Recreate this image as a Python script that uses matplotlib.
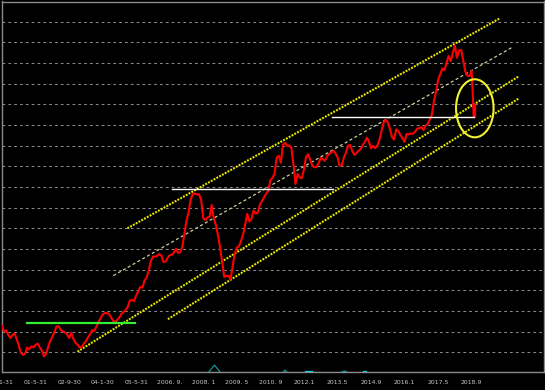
import matplotlib
matplotlib.use('Agg')
import matplotlib.pyplot as plt
from matplotlib.patches import Ellipse
import numpy as np

plt.rcParams['lines.scale_dashes'] = False
plt.rcParams['font.family'] = ['DejaVu Sans']

# ---------------- data (month index 0 = 2000-01, monthly closes, price level units) -------------
values = [
    2.27, 2.00, 2.06, 1.84, 1.69, 1.84, 1.91, 1.65, 1.33, 0.97,
    0.87, 0.94, 1.23, 1.14, 1.28, 1.24, 1.35, 1.42, 1.24, 1.09,
    0.80, 0.92, 1.26, 1.55, 1.74, 1.98, 2.25, 2.26, 2.08, 2.01,
    1.96, 1.88, 1.69, 1.94, 1.66, 1.47, 1.36, 1.24, 1.24, 1.42,
    1.53, 1.72, 1.87, 2.07, 2.03, 2.23, 2.45, 2.64, 2.83, 2.90,
    2.90, 2.86, 2.69, 2.53, 2.44, 2.57, 2.69, 2.86, 2.95, 3.05,
    3.20, 3.51, 3.53, 3.48, 3.75, 3.95, 4.16, 4.14, 4.47, 4.62,
    4.96, 5.42, 5.63, 5.64, 5.66, 5.76, 5.69, 5.37, 5.39, 5.57,
    5.70, 5.72, 5.83, 6.01, 5.81, 5.84, 6.10, 6.73, 7.38, 7.77,
    8.40, 8.66, 8.69, 8.63, 8.65, 8.37, 7.48, 7.40, 7.53, 7.56,
    8.13, 7.49, 7.16, 6.68, 6.07, 5.39, 4.64, 4.70, 4.70, 4.53,
    5.16, 5.78, 6.07, 6.13, 6.39, 6.70, 7.19, 7.70, 7.33, 7.45,
    7.86, 7.71, 7.77, 8.14, 8.32, 8.51, 8.68, 8.81, 9.34, 9.44,
    9.66, 10.43, 10.51, 10.17, 11.05, 11.14, 10.99, 11.01, 10.90, 10.09,
    9.15, 9.63, 9.46, 9.43, 9.85, 10.45, 10.59, 10.32, 10.04, 9.95,
    9.97, 10.15, 10.41, 10.35, 10.27, 10.47, 10.60, 10.67, 10.76, 10.63,
    10.45, 10.03, 10.04, 10.41, 10.65, 10.99, 11.04, 10.76, 10.56, 10.63,
    10.76, 10.82, 11.03, 11.17, 11.39, 11.20, 10.87, 10.99, 10.88, 11.01,
    11.28, 11.69, 12.12, 12.26, 12.14, 11.82, 11.42, 11.30, 11.79, 11.71,
    11.51, 11.37, 11.18, 11.57, 11.54, 11.59, 11.58, 11.67, 11.83, 11.85,
    11.90, 11.76, 11.97, 12.04, 12.27, 12.49, 13.15, 13.59, 14.18, 14.45,
    14.73, 14.65, 15.01, 15.34, 15.08, 15.49, 15.85, 15.26, 15.60, 15.64,
    15.10, 14.58, 14.38, 14.38, 14.63, 12.41,
]
last_bar_high = 13.07

tick_months = [0, 16, 32, 48, 64, 80, 96, 112, 128, 144, 160, 176, 192, 208, 224]
tick_labels = ["00-1-31", "01-5-31", "02-9-30", "04-1-30", "05-5-31", "2006. 9.",
               "2008. 1", "2009. 5", "2010. 9", "2012.1", "2013.5", "2014.9",
               "2016.1", "2017.5", "2018.9"]

grid_levels = list(range(1, 18))

# trend channel lines: (month, level) endpoints
channel_upper = ([59.8, 237.5], [7.00, 17.17])
channel_mid = ([53.1, 243.1], [4.71, 15.75])
channel_lower = ([36.0, 246.2], [1.03, 14.34])
channel_bottom = ([79.1, 246.7], [2.60, 13.30])

# horizontal levels: (start month, end month, level)
white_levels = [(81.1, 158.0, 8.89), (157.4, 225.3, 12.39)]
green_level = (11.8, 63.2, 2.40)

# highlight ellipse: centre month, centre level, width (months), height (levels)
ellipse = (225.5, 12.81, 17.9, 2.81)

# small indicator marks at the bottom
indicator_segments = [
    ([98.6, 101.3, 104.2], [0.03, 0.38, 0.03], '#129696'),
    ([134.0, 135.0, 135.9], [0.03, 0.14, 0.03], '#129696'),
    ([144.7, 147.8], [0.07, 0.07], '#00d8e0'),
    ([162.1, 163.3, 164.5], [0.04, 0.09, 0.04], '#12a0a8'),
    ([172.1, 173.7], [0.07, 0.07], '#00d8e0'),
]

# ---------------- drawing ----------------
months = np.arange(len(values))

fig = plt.figure(figsize=(5.45, 3.9), dpi=100, facecolor='black')
ax = fig.add_axes([2 / 545, (390 - 372.3) / 390, 542 / 545, (372.3 - 1.5) / 390])
ax.set_facecolor('black')
ax.set_xlim(0.38, 258.5)
ax.set_ylim(0.03, 17.98)

for g in grid_levels:
    ax.axhline(g, color='#888888', lw=0.75, dashes=(2.0, 2.2), zorder=1)

dot = dict(color='#e6e600', lw=1.5, dashes=(1.4, 0.9), zorder=2)
ax.plot(*channel_upper, **dot)
ax.plot(*channel_lower, **dot)
ax.plot(*channel_bottom, **dot)
ax.plot(*channel_mid, color='#cfcf9a', lw=0.9, dashes=(2.2, 1.8), zorder=2)

ax.plot(months, values, color='#ff0000', lw=1.5, zorder=3, solid_joinstyle='round')
ax.plot([months[-1], months[-1]], [values[-1], last_bar_high], color='#ff0000', lw=2.4,
        zorder=3, solid_capstyle='butt')

for x0, x1, lv in white_levels:
    ax.plot([x0, x1], [lv, lv], color='white', lw=1.0, zorder=4)
ax.plot([green_level[0], green_level[1]], [green_level[2]] * 2, color='#33ee33', lw=1.6, zorder=4)

cx, cy, w, h = ellipse
ax.add_patch(Ellipse((cx, cy), w, h, fill=False, edgecolor='#f2f230', lw=1.5, zorder=5))

for xs, ys, c in indicator_segments:
    ax.plot(xs, ys, color=c, lw=0.9, zorder=3)

ax.axhline(0.03, color='#d8d8d8', lw=0.8, dashes=(0.6, 0.8), zorder=6)

for s in ax.spines.values():
    s.set_color('#8a8a8a')
    s.set_linewidth(1.0)

ax.set_xticks(tick_months)
ax.set_xticklabels(tick_labels, fontsize=4.4, color='#c8c8c8')
ax.tick_params(axis='x', length=0, pad=5.5)
ax.set_yticks([])

fig.savefig('out.png', dpi=100, facecolor='black')
